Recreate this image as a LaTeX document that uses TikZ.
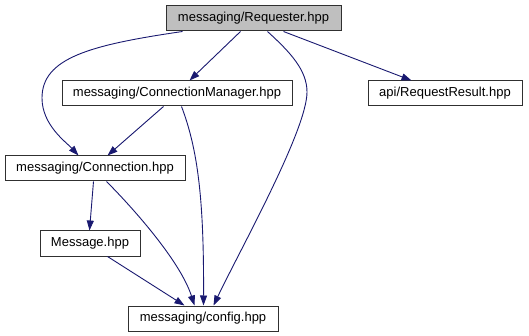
\documentclass[tikz,border=0pt]{standalone}
\usepackage{fontspec}
\setmainfont{Liberation Sans}
\usetikzlibrary{arrows.meta}
\definecolor{edgeblue}{HTML}{191970}
\definecolor{boxgrey}{HTML}{BFBFBF}
\definecolor{boxline}{HTML}{303030}
\tikzset{
  file/.style={draw=boxline, line width=1pt, fill=white, inner sep=0pt,
    minimum height=25pt, font=\fontsize{13}{15}\selectfont, text=black},
  current/.style={file, fill=boxgrey},
  dep/.style={draw=edgeblue, line width=0.9pt,
    -{Triangle[length=10pt,width=7pt,fill=edgeblue]}},
}
\begin{document}
\begin{tikzpicture}[x=1pt, y=-1pt]
\useasboundingbox (0,0) rectangle (529,336);

% header files
\node[current, minimum width=175pt] (req)  at (253.5,18.5) {messaging/Requester.hpp};
\node[file, minimum width=230pt]    (cm)   at (177,93.5)   {messaging/ConnectionManager.hpp};
\node[file, minimum width=154pt]    (rr)   at (445,93.5)   {api/RequestResult.hpp};
\node[file, minimum width=180pt]    (conn) at (95,168.5)   {messaging/Connection.hpp};
\node[file, minimum width=100pt]    (msg)  at (90,243.5)   {Message.hpp};
\node[file, minimum width=150pt]    (cfg)  at (203,318.5)  {messaging/config.hpp};

% include dependencies
\draw[dep] ([xshift=17pt]req.south west) .. controls (90,45) and (42,58) .. (42,98)
  .. controls (42,125) and (66,142) .. ([xshift=74pt]conn.north west);
\draw[dep] ([xshift=75pt]req.south west) -- ([xshift=128pt]cm.north west);
\draw[dep] ([xshift=102pt]req.south west) .. controls (290,52) and (307,70) .. (307,92)
  .. controls (307,130) and (240,250) .. ([xshift=86pt]cfg.north west);
\draw[dep] ([xshift=118pt]req.south west) -- ([xshift=44pt]rr.north west);
\draw[dep] ([xshift=102pt]cm.south west) -- ([xshift=103pt]conn.north west);
\draw[dep] ([xshift=120pt]cm.south west) .. controls (198,150) and (204,200) .. ([xshift=76pt]cfg.north west);
\draw[dep] ([xshift=89pt]conn.south west) -- ([xshift=50pt]msg.north west);
\draw[dep] ([xshift=102pt]conn.south west) .. controls (130,205) and (180,260) .. ([xshift=67pt]cfg.north west);
\draw[dep] ([xshift=68pt]msg.south west) -- ([xshift=57pt]cfg.north west);
\end{tikzpicture}
\end{document}
